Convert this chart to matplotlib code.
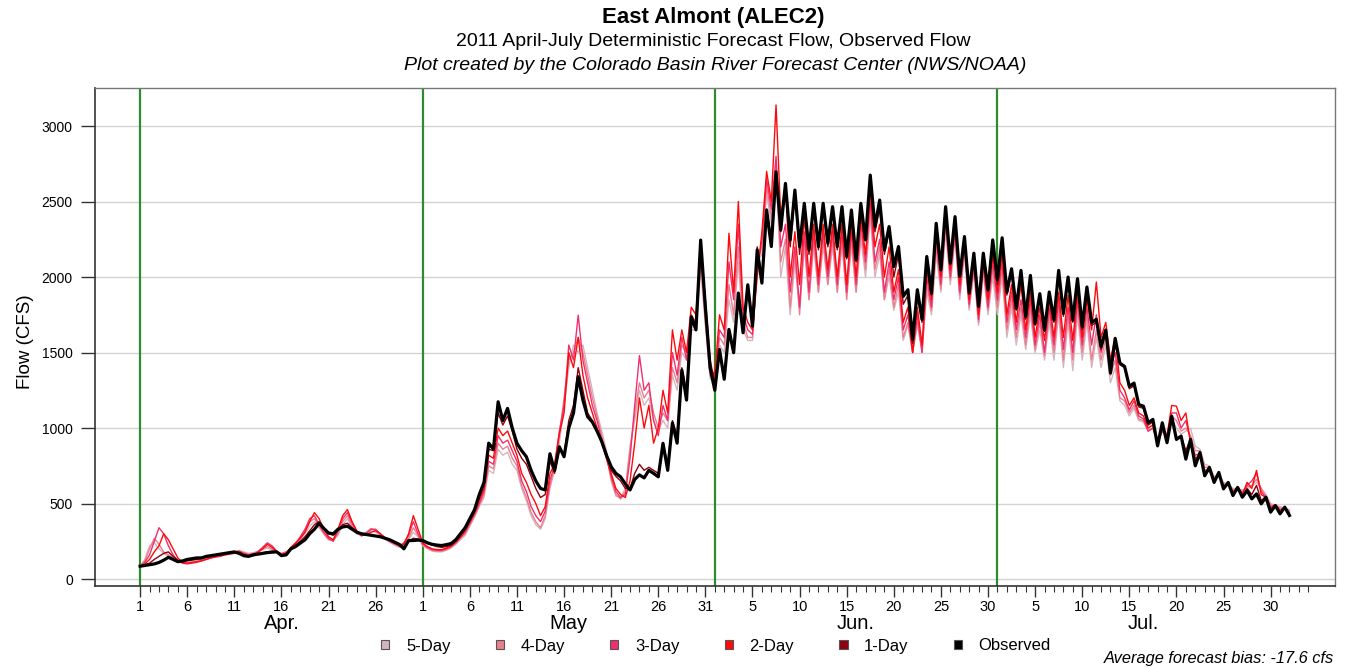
import numpy as np
import pandas as pd
import matplotlib
matplotlib.use("Agg")
import matplotlib.pyplot as plt
from matplotlib.patches import Patch
import matplotlib.transforms as mtransforms

plt.rcParams['font.family'] = ['Liberation Sans', 'DejaVu Sans']

# ---- data: twice-daily values starting 2011-04-01 00:00 ----
start = "2011-04-01"
observed = [
    85, 90, 95, 100, 110, 125, 144, 130, 115, 120, 130, 135, 140, 140, 150, 155, 160, 165, 170, 175,
    180, 170, 155, 150, 160, 165, 170, 175, 178, 180, 155, 160, 200, 215, 238, 260, 300, 330, 370, 335,
    305, 300, 330, 345, 350, 330, 310, 300, 295, 290, 285, 280, 270, 260, 245, 230, 200, 255, 255, 258,
    255, 240, 230, 225, 222, 228, 235, 260, 300, 340, 400, 460, 560, 640, 900, 860, 1174, 1050, 1130, 1000,
    899, 850, 810, 720, 650, 600, 590, 830, 720, 876, 810, 1000, 1100, 1340, 1185, 1075, 1040, 980, 910, 820,
    744, 700, 677, 630, 590, 660, 690, 670, 720, 700, 677, 899, 720, 1033, 900, 1384, 1185, 1737, 1650, 2245,
    1800, 1400, 1250, 1520, 1323, 1653, 1499, 1894, 1631, 1949, 1675, 2180, 1960, 2444, 2202, 2697, 2312, 2620, 2246, 2576,
    2202, 2488, 2180, 2488, 2202, 2488, 2224, 2466, 2202, 2466, 2136, 2444, 2114, 2488, 2246, 2675, 2334, 2510, 2180, 2334,
    2070, 2202, 1872, 1916, 1587, 1916, 1719, 2136, 1894, 2356, 2048, 2466, 2092, 2400, 2004, 2268, 1894, 2158, 1806, 2158,
    1916, 2246, 1982, 2260, 1900, 2055, 1792, 2044, 1737, 2011, 1693, 1890, 1649, 1901, 1715, 2044, 1759, 2000, 1715, 1989,
    1671, 1934, 1700, 1720, 1539, 1649, 1364, 1594, 1430, 1408, 1276, 1298, 1156, 1145, 1035, 1057, 882, 1035, 903, 1079,
    925, 947, 794, 925, 750, 838, 684, 739, 640, 706, 597, 640, 553, 607, 542, 586, 531, 564, 498, 542,
    443, 487, 432, 476, 421,
]
day1 = [
    85, 95, 105, 130, 150, 170, 180, 150, 125, 115, 120, 125, 130, 135, 145, 150, 155, 160, 165, 170,
    175, 175, 160, 150, 155, 165, 175, 180, 185, 178, 160, 165, 205, 225, 250, 280, 320, 360, 380, 340,
    300, 290, 320, 360, 370, 340, 315, 300, 295, 290, 285, 280, 272, 262, 248, 232, 215, 250, 270, 265,
    250, 235, 225, 215, 210, 215, 225, 250, 290, 330, 390, 450, 540, 620, 860, 850, 1100, 1020, 1080, 980,
    860, 800, 760, 680, 600, 540, 560, 780, 700, 860, 820, 1050, 1150, 1400, 1250, 1100, 1050, 990, 920, 830,
    720, 680, 650, 600, 600, 700, 760, 720, 740, 720, 700, 900, 760, 1050, 950, 1400, 1250, 1720, 1700, 2200,
    1850, 1450, 1300, 1500, 1350, 1650, 1520, 1880, 1650, 1950, 1700, 2200, 2000, 2450, 2250, 2700, 2300, 2600, 2200, 2550,
    2150, 2450, 2150, 2450, 2180, 2450, 2200, 2430, 2180, 2450, 2120, 2420, 2100, 2450, 2250, 2600, 2300, 2450, 2150, 2300,
    2000, 2150, 1820, 1880, 1560, 1880, 1700, 2100, 1880, 2320, 2040, 2430, 2080, 2380, 2000, 2250, 1890, 2150, 1800, 2140,
    1900, 2220, 1950, 2230, 1880, 2030, 1780, 2020, 1720, 1990, 1680, 1870, 1640, 1880, 1700, 2020, 1740, 1980, 1700, 1960,
    1650, 1900, 1680, 1700, 1520, 1630, 1380, 1580, 1420, 1400, 1260, 1280, 1140, 1130, 1020, 1040, 880, 1020, 900, 1060,
    920, 950, 850, 930, 760, 840, 690, 740, 645, 705, 600, 640, 560, 605, 545, 600, 560, 620, 520, 545,
    450, 485, 435, 470, 425,
]
day2 = [
    85, 100, 130, 180, 220, 300, 260, 200, 140, 110, 105, 110, 115, 120, 130, 140, 150, 155, 160, 165,
    170, 180, 165, 155, 160, 175, 200, 230, 210, 180, 160, 170, 210, 240, 270, 310, 380, 440, 400, 330,
    280, 260, 330, 420, 460, 380, 320, 290, 290, 310, 320, 300, 275, 255, 240, 225, 230, 300, 420, 330,
    240, 215, 200, 195, 195, 205, 220, 245, 280, 320, 380, 440, 520, 600, 820, 800, 1000, 950, 980, 900,
    820, 700, 640, 560, 500, 420, 480, 700, 760, 960, 1100, 1500, 1400, 1600, 1350, 1200, 1100, 1000, 900, 800,
    700, 600, 560, 540, 650, 900, 1200, 1000, 1150, 900, 1000, 1250, 1100, 1650, 1450, 1650, 1500, 1800, 1750, 2200,
    1800, 1400, 1350, 1750, 1650, 2290, 1900, 2500, 1800, 1700, 1650, 2000, 2300, 2700, 2500, 3140, 2400, 2600, 2000, 2300,
    1950, 2400, 2000, 2350, 2000, 2350, 2050, 2350, 2000, 2350, 1950, 2350, 2000, 2400, 2150, 2550, 2200, 2350, 2000, 2200,
    1900, 2050, 1700, 1800, 1500, 1800, 1550, 2050, 1850, 2300, 2000, 2400, 2050, 2350, 1950, 2250, 1850, 2100, 1750, 2100,
    1850, 2150, 1900, 2150, 1750, 1950, 1700, 1950, 1650, 1900, 1600, 1800, 1580, 1850, 1600, 1900, 1600, 1880, 1580, 1900,
    1600, 1850, 1650, 1967, 1600, 1700, 1450, 1600, 1300, 1250, 1150, 1200, 1100, 1080, 1000, 1020, 900, 1000, 950, 1150,
    1145, 1050, 1100, 900, 800, 820, 700, 720, 650, 690, 610, 630, 570, 600, 560, 640, 600, 720, 560, 540,
    470, 490, 450, 470, 430,
]
day3 = [
    85, 110, 160, 250, 340, 300, 220, 160, 120, 105, 100, 105, 110, 120, 130, 140, 145, 150, 160, 170,
    175, 185, 170, 160, 165, 180, 210, 240, 220, 185, 165, 175, 205, 235, 280, 330, 400, 420, 360, 310,
    270, 250, 320, 400, 440, 370, 310, 285, 300, 330, 330, 300, 270, 250, 235, 220, 240, 290, 380, 300,
    230, 210, 195, 190, 190, 200, 215, 240, 275, 310, 370, 430, 500, 580, 780, 760, 950, 900, 920, 850,
    780, 650, 580, 480, 420, 380, 450, 650, 760, 980, 1150, 1550, 1450, 1748, 1450, 1300, 1150, 1050, 920, 800,
    680, 580, 540, 560, 800, 1150, 1480, 1250, 1300, 1050, 950, 1150, 1050, 1500, 1350, 1600, 1450, 1750, 1700, 2150,
    1750, 1380, 1320, 1650, 1600, 2100, 1850, 2350, 1750, 1650, 1620, 2050, 2250, 2650, 2450, 2800, 2200, 2350, 1900, 2200,
    1800, 2300, 1900, 2300, 1950, 2300, 2000, 2300, 1950, 2300, 1900, 2300, 1950, 2350, 2100, 2500, 2100, 2250, 1900, 2100,
    1850, 2000, 1650, 1750, 1500, 1750, 1500, 2000, 1800, 2250, 1950, 2380, 2000, 2300, 1900, 2200, 1820, 2080, 1720, 2080,
    1800, 2100, 1850, 2100, 1700, 1900, 1650, 1850, 1600, 1850, 1550, 1750, 1500, 1800, 1550, 1850, 1520, 1800, 1500, 1850,
    1550, 1800, 1550, 1750, 1500, 1650, 1400, 1500, 1250, 1200, 1120, 1180, 1080, 1060, 980, 1000, 900, 980, 950, 1100,
    1100, 1000, 1050, 920, 820, 830, 720, 730, 660, 690, 620, 630, 580, 600, 570, 620, 650, 700, 580, 540,
    480, 490, 460, 470, 440,
]
day4 = [
    85, 120, 200, 270, 230, 180, 160, 140, 120, 110, 105, 110, 115, 125, 135, 140, 150, 160, 165, 175,
    180, 185, 175, 165, 170, 185, 200, 215, 200, 180, 170, 180, 200, 230, 270, 320, 380, 400, 350, 300,
    260, 255, 300, 380, 420, 350, 300, 290, 310, 335, 320, 295, 265, 245, 230, 215, 230, 270, 340, 290,
    225, 205, 190, 185, 185, 195, 210, 235, 270, 300, 360, 420, 490, 560, 750, 730, 900, 860, 880, 800,
    750, 620, 540, 440, 380, 340, 420, 620, 740, 950, 1200, 1450, 1500, 1600, 1500, 1350, 1200, 1080, 950, 820,
    660, 560, 530, 580, 850, 1100, 1300, 1200, 1250, 1100, 1000, 1100, 1050, 1400, 1300, 1550, 1500, 1700, 1650, 2100,
    1700, 1350, 1300, 1600, 1550, 1950, 1750, 2200, 1700, 1600, 1600, 2100, 2200, 2600, 2400, 2750, 2100, 2250, 1800, 2150,
    1750, 2250, 1850, 2250, 1900, 2250, 1950, 2250, 1900, 2250, 1850, 2250, 1900, 2300, 2050, 2450, 2050, 2200, 1850, 2050,
    1800, 1950, 1600, 1700, 1500, 1700, 1500, 1950, 1780, 2200, 1920, 2350, 1980, 2280, 1880, 2180, 1800, 2050, 1700, 2050,
    1780, 2050, 1800, 2050, 1650, 1850, 1600, 1800, 1550, 1800, 1520, 1700, 1480, 1750, 1500, 1800, 1450, 1750, 1450, 1800,
    1500, 1750, 1450, 1650, 1450, 1600, 1350, 1450, 1200, 1180, 1100, 1150, 1060, 1050, 980, 1000, 920, 980, 940, 1080,
    1050, 980, 1000, 950, 850, 850, 740, 740, 670, 690, 630, 630, 590, 600, 580, 610, 620, 660, 600, 550,
    490, 490, 470, 470, 450,
]
day5 = [
    85, 130, 220, 240, 200, 170, 150, 135, 120, 110, 110, 115, 120, 130, 140, 145, 150, 160, 170, 180,
    180, 190, 180, 170, 175, 180, 195, 205, 195, 180, 170, 180, 200, 220, 260, 300, 350, 380, 340, 300,
    265, 260, 290, 360, 400, 340, 300, 295, 305, 320, 310, 290, 265, 245, 225, 210, 225, 260, 310, 280,
    220, 200, 185, 180, 180, 190, 205, 230, 260, 290, 350, 410, 480, 540, 720, 700, 860, 820, 840, 760,
    720, 600, 520, 420, 360, 330, 400, 600, 720, 900, 1150, 1400, 1550, 1500, 1550, 1400, 1250, 1100, 980, 850,
    650, 550, 540, 600, 880, 1050, 1250, 1150, 1200, 1050, 980, 1050, 1000, 1350, 1250, 1500, 1450, 1650, 1650, 2050,
    1680, 1330, 1290, 1550, 1500, 1850, 1700, 2100, 1650, 1580, 1580, 2100, 2150, 2550, 2350, 2720, 2000, 2200, 1750, 2100,
    1800, 2200, 1850, 2200, 1900, 2200, 1950, 2200, 1900, 2200, 1880, 2200, 1900, 2250, 2000, 2400, 2000, 2150, 1850, 2000,
    1780, 1900, 1580, 1680, 1500, 1680, 1520, 1900, 1750, 2150, 1900, 2300, 1950, 2250, 1850, 2150, 1780, 2030, 1680, 2030,
    1750, 2000, 1750, 2000, 1600, 1800, 1550, 1750, 1520, 1750, 1500, 1650, 1450, 1700, 1450, 1750, 1400, 1700, 1380, 1750,
    1450, 1700, 1400, 1600, 1400, 1550, 1300, 1400, 1180, 1150, 1080, 1130, 1050, 1040, 980, 1000, 930, 980, 950, 1060,
    1000, 960, 980, 1000, 880, 860, 760, 750, 680, 690, 640, 630, 600, 600, 590, 600, 610, 640, 600, 560,
    500, 490, 480, 470, 460,
]

series_labels = ["5-Day", "4-Day", "3-Day", "2-Day", "1-Day", "Observed"]
series_colors = ["#d6b4bd", "#ea7f8e", "#f0306e", "#ff0a0a", "#8e0010", "#000000"]
month_starts = ["2011-04-01", "2011-05-01", "2011-06-01", "2011-07-01"]
month_names = ["Apr.", "May", "Jun.", "Jul."]
month_label_days = ["2011-04-16", "2011-05-16 12:00", "2011-06-16", "2011-07-16 12:00"]
yticks = [0, 500, 1000, 1500, 2000, 2500, 3000]

times = pd.date_range(start, periods=len(observed), freq="12h")

fig = plt.figure(figsize=(13.46, 6.68), dpi=100)
ax = fig.add_axes([95 / 1346, 1 - 586 / 668, (1335 - 95) / 1346, (586 - 88) / 668])

for yv in yticks:
    ax.axhline(yv, color="#d3d3d3", lw=1.0, zorder=0)

for ms in month_starts:
    ax.axvline(pd.Timestamp(ms), color="#2e8b2e", lw=1.6, zorder=1)

data = [day5, day4, day3, day2, day1, observed]
for vals, lab, col in zip(data, series_labels, series_colors):
    lw = 2.3 if lab == "Observed" else 1.0
    ax.plot(times, vals, color=col, lw=lw, zorder=3 if lab == "Observed" else 2)

t0 = pd.Timestamp(start)
ax.set_xlim(t0 - pd.Timedelta(hours=115), t0 + pd.Timedelta(hours=int(126.86 * 24)))
ax.set_ylim(-46, 3252)

major = pd.date_range(start, "2011-07-30", freq="5D")
minor = pd.date_range(start, "2011-08-03", freq="1D")
ax.set_xticks(major)
ax.set_xticklabels([str(d.day) for d in major])
ax.set_xticks(minor, minor=True)
ax.set_yticks(yticks)
ax.set_yticklabels([str(v) for v in yticks])
ax.tick_params(axis="x", which="major", length=8, width=1, direction="out", labelsize=10.5, pad=2, color="#333333")
ax.tick_params(axis="x", which="minor", length=4, width=0.8, direction="out", color="#333333")
ax.tick_params(axis="y", which="major", length=10, width=1, direction="out", labelsize=10, pad=6, color="#333333")

for side in ["left", "bottom"]:
    ax.spines[side].set_color("#333333")
    ax.spines[side].set_linewidth(1.2)
for side in ["top", "right"]:
    ax.spines[side].set_color("#777777")
    ax.spines[side].set_linewidth(1.0)

trans = mtransforms.blended_transform_factory(ax.transData, ax.transAxes)
for name, d in zip(month_names, month_label_days):
    ax.text(pd.Timestamp(d), -0.075, name, transform=trans, ha="center", va="center", fontsize=14.5)

fig.text(25 / 1346, 1 - 342 / 668, "Flow (CFS)", rotation=90, ha="center", va="center", fontsize=13.5)

fig.text(713 / 1346, 1 - 17 / 668, "East Almont (ALEC2)", ha="center", va="center", fontsize=16, fontweight="bold")
fig.text(713 / 1346, 1 - 42 / 668, "2011 April-July Deterministic Forecast Flow, Observed Flow",
         ha="center", va="center", fontsize=14)
fig.text(715 / 1346, 1 - 65 / 668, "Plot created by the Colorado Basin River Forecast Center (NWS/NOAA)",
         ha="center", va="center", fontsize=14, style="italic")

handles = [Patch(facecolor=c, edgecolor="#555555", linewidth=0.8) for c in series_colors]
fig.legend(handles, series_labels, loc="center", bbox_to_anchor=(716 / 1346, 1 - 646 / 668), ncol=6,
           frameon=False, fontsize=12, handlelength=0.5, handleheight=0.5, handletextpad=1.0,
           columnspacing=2.7)

fig.text(1334 / 1346, 1 - 658 / 668, "Average forecast bias: -17.6 cfs", ha="right", va="center",
         fontsize=11.8, style="italic")

fig.savefig("out.png", dpi=100)
